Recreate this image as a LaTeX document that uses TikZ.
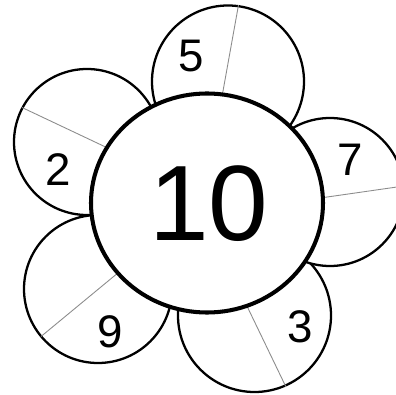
\documentclass[tikz,border=0pt]{standalone}
\usepackage{fontspec}
\setmainfont{Liberation Sans}
\begin{document}
\begin{tikzpicture}[x=0.02cm, y=-0.02cm,
    petalS/.style={draw=black, fill=white, line width=1.3pt},
    hubS/.style={draw=black, fill=white, line width=2.3pt},
    splitS/.style={draw=black!45, line width=0.5pt},
    digitS/.style={inner sep=0pt, font=\fontsize{26}{26}\selectfont},
]
\clip (0,0) rectangle (396,395);
% Petals - each one split in two halves
\coordinate (cTop) at (228,81.5);
\coordinate (cLeft) at (87,142);
\coordinate (cLowL) at (98,289);
\coordinate (cLowR) at (254.5,315.5);
\coordinate (cRight) at (330,192);
\draw[petalS] (cTop) circle (76);
\draw[splitS] (238.5,5) -- (216,130);
\draw[petalS] (cLeft) circle (73);
\draw[splitS] (22,107.5) -- (150,168);
\draw[petalS] (cLowL) circle (74);
\draw[splitS] (41,336.5) -- (140,254.7);
\draw[petalS] (cLowR) circle (76.5);
\draw[splitS] (286,387) -- (234.4,280);
\draw[petalS] (cRight) circle (74);
\draw[splitS] (257.5,207) -- (404,186);
% Centre of the flower
\coordinate (cHub) at (207,203);
\draw[hubS] (cHub) ellipse [x radius=116, y radius=109.5];
\node[inner sep=0pt, font=\fontsize{61}{61}\selectfont] (n10) at (209,203.5) {10};
% Numbers on the petals
\node[digitS] (n5) at (191.5,56.5) {5};
\node[digitS] (n2) at (58,170) {2};
\node[digitS] (n7) at (350,160) {7};
\node[digitS] (n9) at (110,331.5) {9};
\node[digitS] (n3) at (300,327) {3};
\end{tikzpicture}
\end{document}
